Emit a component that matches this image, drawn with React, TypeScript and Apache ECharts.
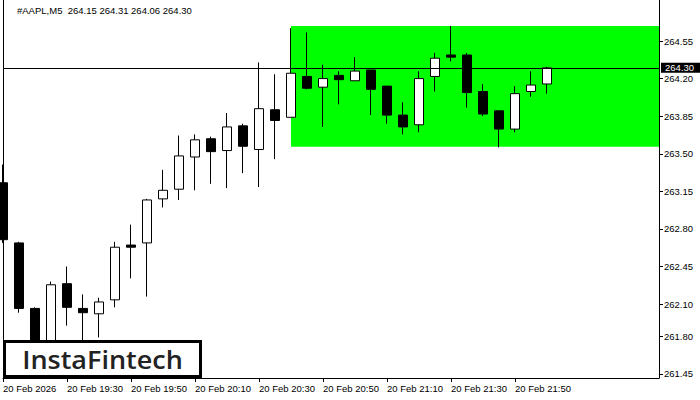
import React, { useEffect, useRef } from "react";
import * as echarts from "echarts";

const times = [
  "19:10", "19:15", "19:20", "19:25", "19:30", "19:35", "19:40", "19:45", "19:50", "19:55",
  "20:00", "20:05", "20:10", "20:15", "20:20", "20:25", "20:30", "20:35", "20:40", "20:45",
  "20:50", "20:55", "21:00", "21:05", "21:10", "21:15", "21:20", "21:25", "21:30", "21:35",
  "21:40", "21:45", "21:50", "21:55", "22:00",
  "22:05", "22:10", "22:15", "22:20", "22:25", "22:30", "22:35",
];
const opens = [
  263.23, 262.67, 262.06, 261.70, 262.29, 262.06, 262.01, 262.14, 262.65, 262.67,
  263.08, 263.17, 263.47, 263.64, 263.53, 263.76, 263.54, 263.91, 263.84, 264.22,
  264.12, 264.23, 264.18, 264.28, 264.13, 263.86, 263.77, 264.22, 264.42, 264.42,
  264.08, 263.90, 263.73, 264.08, 264.15,
];
const highs = [
  263.40, 262.68, 262.07, 262.31, 262.45, 262.19, 262.16, 262.68, 262.84, 263.08,
  263.35, 263.67, 263.68, 263.66, 263.88, 263.78, 264.35, 264.24, 264.67, 264.63,
  264.33, 264.27, 264.40, 264.28, 264.13, 263.98, 264.27, 264.44, 264.69, 264.44,
  264.15, 263.90, 264.13, 264.27, 264.31,
];
const lows = [
  262.67, 262.02, 261.60, 261.62, 261.90, 261.72, 261.79, 262.07, 262.34, 262.17,
  263.00, 263.07, 263.16, 263.22, 263.18, 263.32, 263.19, 263.45, 263.84, 264.10,
  263.75, 263.96, 264.18, 263.86, 263.78, 263.68, 263.70, 264.08, 264.36, 263.93,
  263.85, 263.56, 263.70, 264.03, 264.06,
];
const closes = [
  262.70, 262.06, 261.70, 262.28, 262.07, 262.02, 262.12, 262.63, 262.63, 263.07,
  263.16, 263.48, 263.63, 263.52, 263.75, 263.57, 263.92, 263.81, 264.25, 264.11,
  264.20, 264.19, 264.27, 264.10, 263.86, 263.75, 264.20, 264.39, 264.40, 264.07,
  263.87, 263.73, 264.06, 264.14, 264.30,
];
const priceTicks = [264.55, 264.2, 263.85, 263.5, 263.15, 262.8, 262.45, 262.1, 261.8, 261.45];
const currentPrice = 264.3;
const zoneStartIndex = 18;
const zoneTop = 264.69;
const zoneBottom = 263.565;
const yMin = 261.412;
const yMax = 264.932;
const titleText = "#AAPL,M5  264.15 264.31 264.06 264.30";
const dateLabel = "20 Feb 2026";
const dayPrefix = "20 Feb ";
const lastLabelIndex = 32;

const axisFont = "'Liberation Sans', Arial, sans-serif";

export default function App() {
  const ref = useRef<HTMLDivElement>(null);

  useEffect(() => {
    if (!ref.current) return;
    const chart = echarts.init(ref.current, null, { renderer: "svg" });
    const candleData = times.map((_, i) =>
      i < opens.length ? [opens[i], closes[i], lows[i], highs[i]] : "-"
    );
    const showTick = (i: number) => i % 4 === 0 && i <= lastLabelIndex;

    chart.setOption({
      animation: false,
      backgroundColor: "#ffffff",
      title: {
        text: titleText,
        left: 12,
        top: 0,
        textStyle: {
          fontSize: 9.5,
          fontWeight: "normal",
          color: "#000",
          fontFamily: axisFont,
        },
      },
      grid: { left: 3, right: 41, top: 0, bottom: 22 },
      xAxis: {
        type: "category",
        data: times,
        boundaryGap: false,
        axisLine: { show: true, lineStyle: { color: "#000", width: 1 } },
        axisTick: {
          show: true,
          interval: (i: number) => showTick(i),
          length: 4,
          lineStyle: { color: "#000" },
        },
        axisLabel: {
          interval: (i: number) => showTick(i),
          align: "left",
          margin: 5,
          fontSize: 9.5,
          color: "#000",
          fontFamily: axisFont,
          formatter: (v: string, i: number) => (i === 0 ? dateLabel : dayPrefix + v),
        },
        splitLine: { show: false },
      },
      yAxis: [
        {
          type: "value",
          position: "right",
          min: yMin,
          max: yMax,
          scale: true,
          axisLine: { show: true, lineStyle: { color: "#000", width: 1 } },
          axisTick: {
            show: true,
            length: 4,
            customValues: priceTicks,
            lineStyle: { color: "#000" },
          },
          axisLabel: {
            customValues: priceTicks,
            margin: 5,
            fontSize: 9.5,
            color: "#000",
            fontFamily: axisFont,
            formatter: (v: number) => v.toFixed(2),
          },
          splitLine: { show: false },
        },
        {
          type: "value",
          position: "left",
          min: yMin,
          max: yMax,
          axisLine: { show: true, onZero: false, lineStyle: { color: "#000", width: 1 } },
          axisTick: { show: false },
          axisLabel: { show: false },
          splitLine: { show: false },
        },
      ],
      series: [
        {
          type: "candlestick",
          data: candleData,
          barWidth: 10,
          clip: true,
          itemStyle: {
            color: "#ffffff",
            color0: "#000000",
            borderColor: "#000000",
            borderColor0: "#000000",
            borderWidth: 1,
          },
          markArea: {
            silent: true,
            itemStyle: { color: "#00ff00", opacity: 1 },
            data: [
              [
                { xAxis: zoneStartIndex, yAxis: zoneTop },
                { xAxis: times.length - 1, yAxis: zoneBottom },
              ],
            ],
          },
          markLine: {
            silent: true,
            symbol: ["none", "none"],
            lineStyle: { color: "#000", width: 1, type: "solid" },
            label: {
              show: true,
              position: "end",
              distance: 2,
              formatter: () => currentPrice.toFixed(2),
              backgroundColor: "#000",
              color: "#fff",
              padding: [0, 6, 0, 4],
              fontSize: 9.5,
              lineHeight: 10,
              fontFamily: axisFont,
            },
            data: [{ yAxis: currentPrice }],
          },
        },
      ],
      graphic: [
        {
          type: "rect",
          z: 100,
          shape: { x: 4.5, y: 341.5, width: 196, height: 35 },
          style: { fill: "#fff", stroke: "#000", lineWidth: 3 },
        },
        {
          type: "text",
          z: 101,
          x: 102.5,
          y: 359.5,
          scaleX: 1.08,
          style: {
            text: "InstaFintech",
            fill: "#222222",
            font: "600 25px 'Open Sans', sans-serif",
            textAlign: "center",
            textVerticalAlign: "middle",
          },
        },
      ],
    });
    return () => chart.dispose();
  }, []);

  return (
    <div
      ref={ref}
      style={{ position: "fixed", left: 0, top: 0, width: 700, height: 400 }}
    />
  );
}
